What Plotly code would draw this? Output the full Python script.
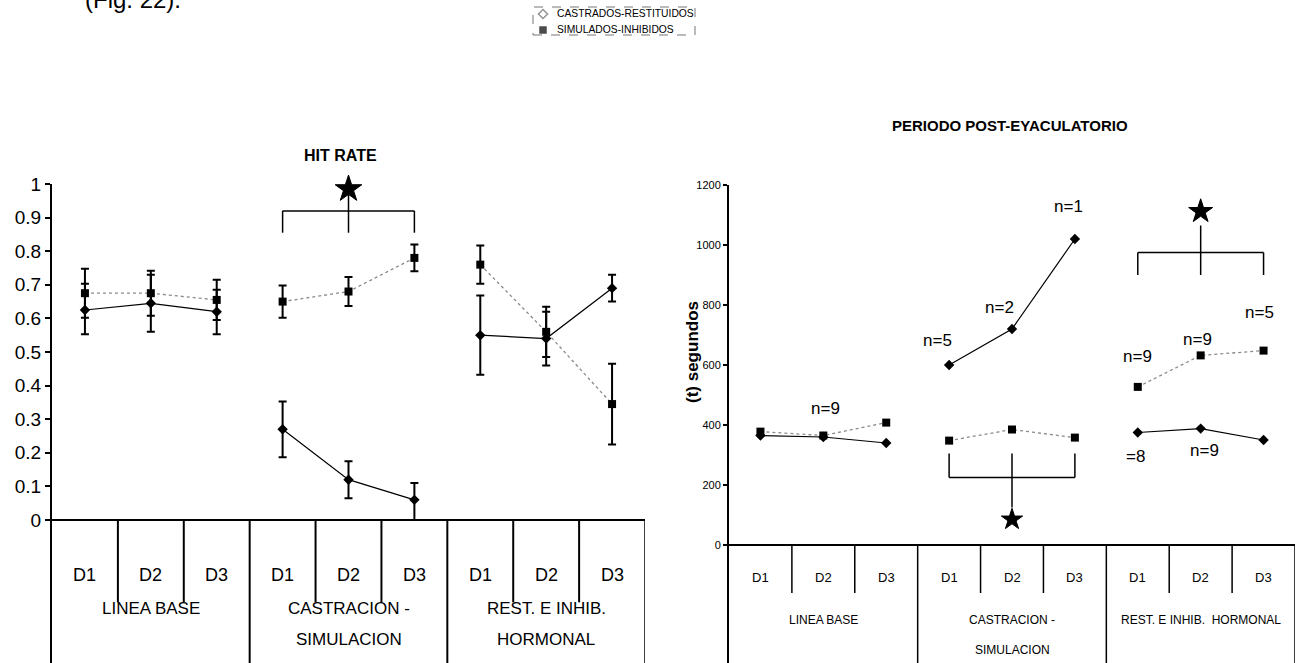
import plotly.graph_objects as go

# ---------------- data ----------------
days = ["D1", "D2", "D3", "D1", "D2", "D3", "D1", "D2", "D3"]
phases_left = [["LINEA BASE"], ["CASTRACION -", "SIMULACION"], ["REST. E INHIB.", "HORMONAL"]]
phases_right = [["LINEA BASE"], ["CASTRACION -", "SIMULACION"], ["REST. E INHIB.  HORMONAL"]]
series_names = ["CASTRADOS-RESTITUIDOS", "SIMULADOS-INHIBIDOS"]

hr_cas = [0.625, 0.645, 0.62, 0.27, 0.12, 0.06, 0.55, 0.54, 0.69]
hr_cas_err_plus = [0.078, 0.085, 0.065, 0.083, 0.055, 0.05, 0.118, 0.08, 0.04]
hr_cas_err_minus = [0.072, 0.085, 0.067, 0.083, 0.055, 0.06, 0.118, 0.08, 0.04]
hr_sim = [0.675, 0.675, 0.655, 0.65, 0.68, 0.78, 0.76, 0.56, 0.345]
hr_sim_err = [0.073, 0.067, 0.06, 0.048, 0.043, 0.04, 0.057, 0.075, 0.12]

ppe_cas = [365, 360, 340, 600, 720, 1020, 375, 388, 350]
ppe_sim = [378, 365, 408, 348, 385, 358, 527, 632, 648]

yticks_left = [0, 0.1, 0.2, 0.3, 0.4, 0.5, 0.6, 0.7, 0.8, 0.9, 1]
yticks_right = [0, 200, 400, 600, 800, 1000, 1200]

# n labels (point index, series, text, x shift px, y shift px)
n_labels = [
    (1, "sim", "n=9", 2, 27),
    (3, "cas", "n=5", -12, 25),
    (4, "cas", "n=2", -13, 22),
    (5, "cas", "n=1", -6, 33),
    (6, "sim", "n=9", 0, 30),
    (7, "sim", "n=9", -3, 16),
    (8, "sim", "n=5", -4, 38),
    (6, "cas", "=8", -2, -24),
    (7, "cas", "n=9", 4, -22),
]

FONT = "Liberation Sans Narrow, Arial Narrow, Liberation Sans, Arial, sans-serif"
FONT_REG = "Liberation Sans, Arial, sans-serif"
W, H = 1296, 663

x_idx = list(range(len(days)))


def with_gaps(xs, ys):
    ox, oy = [], []
    for i, (a, b) in enumerate(zip(xs, ys)):
        if i > 0 and i % 3 == 0:
            ox.append(None)
            oy.append(None)
        ox.append(a)
        oy.append(b)
    return ox, oy


def gap_arr(vals):
    out = []
    for i, v in enumerate(vals):
        if i > 0 and i % 3 == 0:
            out.append(0)
        out.append(v)
    return out


fig = go.Figure()

# ---- left chart: HIT RATE ----
gx, gy = with_gaps(x_idx, hr_sim)
fig.add_trace(go.Scatter(
    x=gx, y=gy, mode="lines+markers", xaxis="x", yaxis="y", name=series_names[1],
    line=dict(color="#8a8a8a", width=1.3, dash="dot"),
    marker=dict(symbol="square", size=8, color="black"),
    error_y=dict(type="data", array=gap_arr(hr_sim_err), color="black", thickness=2, width=4),
))
gx, gy = with_gaps(x_idx, hr_cas)
fig.add_trace(go.Scatter(
    x=gx, y=gy, mode="lines+markers", xaxis="x", yaxis="y", name=series_names[0],
    line=dict(color="black", width=1.2),
    marker=dict(symbol="diamond", size=8, color="black"),
    error_y=dict(type="data", array=gap_arr(hr_cas_err_plus), arrayminus=gap_arr(hr_cas_err_minus),
                 color="black", thickness=2, width=4),
))

# ---- right chart: PERIODO POST-EYACULATORIO ----
gx, gy = with_gaps(x_idx, ppe_sim)
fig.add_trace(go.Scatter(
    x=gx, y=gy, mode="lines+markers", xaxis="x2", yaxis="y2", name=series_names[1],
    line=dict(color="#8a8a8a", width=1.3, dash="dot"),
    marker=dict(symbol="square", size=8, color="black"),
))
gx, gy = with_gaps(x_idx, ppe_cas)
fig.add_trace(go.Scatter(
    x=gx, y=gy, mode="lines+markers", xaxis="x2", yaxis="y2", name=series_names[0],
    line=dict(color="black", width=1.2),
    marker=dict(symbol="diamond", size=8, color="black"),
))

# legend markers (drawn on a small hidden axis pair inside the legend box)
fig.add_trace(go.Scatter(
    x=[543, 543], y=[14, 30], mode="markers", xaxis="x3", yaxis="y3", cliponaxis=False,
    marker=dict(symbol=["diamond-open", "square"], size=[7, 6], color=["#666666", "black"],
                line=dict(width=1.5, color=["#666666", "black"])),
    hoverinfo="skip",
))

# significance stars
for xs, ys, sz, xa, ya in [(4, 0.985, 20, "x", "y"), (4, 85, 16, "x2", "y2"), (7, 1112, 18, "x2", "y2")]:
    fig.add_trace(go.Scatter(x=[xs], y=[ys], mode="markers", xaxis=xa, yaxis=ya, cliponaxis=False,
                             marker=dict(symbol="star", size=sz, color="black",
                                         line=dict(color="black", width=1)),
                             hoverinfo="skip"))

shapes = []


def line(xref, yref, x0, y0, x1, y1, w=1.5):
    shapes.append(dict(type="line", xref=xref, yref=yref, x0=x0, y0=y0, x1=x1, y1=y1,
                       line=dict(color="black", width=w)))


# brackets
line("x", "y", 3, 0.92, 5, 0.92)
line("x", "y", 3, 0.92, 3, 0.855)
line("x", "y", 5, 0.92, 5, 0.855)
line("x", "y", 4, 1.03, 4, 0.855)

line("x2", "y2", 3, 225, 5, 225)
line("x2", "y2", 3, 225, 3, 305)
line("x2", "y2", 5, 225, 5, 305)
line("x2", "y2", 4, 305, 4, 125)

line("x2", "y2", 6, 975, 8, 975)
line("x2", "y2", 6, 975, 6, 900)
line("x2", "y2", 8, 975, 8, 900)
line("x2", "y2", 7, 1065, 7, 900)

# table lines
L_BOT = -0.4256
R_BOT = -393.3
for xv in [0.5, 1.5, 3.5, 4.5, 6.5, 7.5]:
    line("x", "y", xv, 0, xv, -0.245, 2)
    line("x2", "y2", xv, 0, xv, -160, 1.5)
for xv in [2.5, 5.5, 8.5]:
    line("x", "y", xv, 0, xv, L_BOT, 2 if xv < 8 else 1.5)
    line("x2", "y2", xv, 0, xv, R_BOT, 1.5)

# legend frame (dashed, like the scanned box)
shapes.append(dict(type="rect", xref="paper", yref="paper", x0=533 / W, x1=695 / W,
                   y0=1 - 35 / H, y1=1 - 7 / H, line=dict(color="#777777", width=1, dash="dash")))

annotations = []


def ann(**kw):
    kw.setdefault("showarrow", False)
    kw.setdefault("xanchor", "center")
    kw.setdefault("yanchor", "middle")
    annotations.append(kw)


# legend labels
for k, nm in enumerate(series_names):
    ann(xref="x3", yref="y3", x=555, y=14 + 16 * k, xanchor="left", text=nm,
        font=dict(family=FONT_REG, size=10.3, color="black"))

# table text
for i, d in enumerate(days):
    ann(xref="x", yref="y", x=i, y=-0.163, text=d, font=dict(family=FONT, size=18, color="black"))
    ann(xref="x2", yref="y2", x=i, y=-107, text=d, font=dict(family=FONT, size=13, color="black"))
for g, lines in enumerate(phases_left):
    for k, t in enumerate(lines):
        ann(xref="x", yref="y", x=3 * g + 1, y=-0.262 - 0.095 * k, text=t,
            font=dict(family=FONT, size=17, color="black"))
for g, lines in enumerate(phases_right):
    for k, t in enumerate(lines):
        ann(xref="x2", yref="y2", x=3 * g + 1, y=-250 - 100 * k, text=t,
            font=dict(family=FONT, size=12, color="black"))

# n labels
for idx, s, t, dx, dy in n_labels:
    yv = ppe_sim[idx] if s == "sim" else ppe_cas[idx]
    ann(xref="x2", yref="y2", x=idx, y=yv, text=t, xshift=dx, yshift=dy,
        font=dict(family=FONT, size=17, color="black"))

# titles
ann(xref="paper", yref="paper", x=340 / W, y=1 - 155 / H, text="<b>HIT RATE</b>",
    font=dict(family=FONT_REG, size=16, color="black"))
ann(xref="paper", yref="paper", x=1010 / W, y=1 - 125 / H, text="<b>PERIODO POST-EYACULATORIO</b>",
    font=dict(family=FONT, size=15, color="black"))
ann(xref="paper", yref="paper", x=692 / W, y=1 - 352 / H, text="<b>(t) segundos</b>", textangle=-90,
    font=dict(family=FONT_REG, size=17, color="black"))
ann(xref="paper", yref="paper", x=83 / W, y=1 + 1 / H, xanchor="left",
    text="(Fig. 22).", font=dict(family=FONT_REG, size=24, color="black"))

fig.update_layout(
    width=W, height=H,
    margin=dict(l=0, r=0, t=0, b=0, autoexpand=False),
    paper_bgcolor="white", plot_bgcolor="white",
    showlegend=False,
    shapes=shapes, annotations=annotations,
    xaxis=dict(domain=[52 / W, 645 / W], range=[-0.5, 8.5], visible=False),
    yaxis=dict(domain=[0, 1 - 184 / H], range=[L_BOT, 1], tickvals=yticks_left,
               ticktext=[f"{v:g}" for v in yticks_left], automargin=False,
               showline=True, linecolor="black", linewidth=2, ticks="outside", ticklen=5,
               tickwidth=1.5, tickcolor="black", showgrid=False,
               zeroline=True, zerolinecolor="black", zerolinewidth=2,
               tickfont=dict(family=FONT, size=19, color="black")),
    xaxis2=dict(domain=[729 / W, 1295 / W], range=[-0.5, 8.5], visible=False, anchor="y2"),
    yaxis2=dict(domain=[0, 1 - 185 / H], range=[R_BOT, 1200], tickvals=yticks_right, anchor="x2",
                showline=True, linecolor="black", linewidth=2, ticks="outside", ticklen=4,
                tickwidth=1.5, tickcolor="black", showgrid=False, automargin=False,
                zeroline=True, zerolinecolor="black", zerolinewidth=2,
                tickfont=dict(family=FONT, size=11, color="black")),
    xaxis3=dict(domain=[533 / W, 695 / W], range=[533, 695], visible=False, anchor="y3"),
    yaxis3=dict(domain=[1 - 35 / H, 1 - 8 / H], range=[35, 8], visible=False, anchor="x3"),
)

fig.write_html("out.html", config={"displayModeBar": False},
               post_script="document.body.style.margin='0';document.body.style.overflow='hidden';")
